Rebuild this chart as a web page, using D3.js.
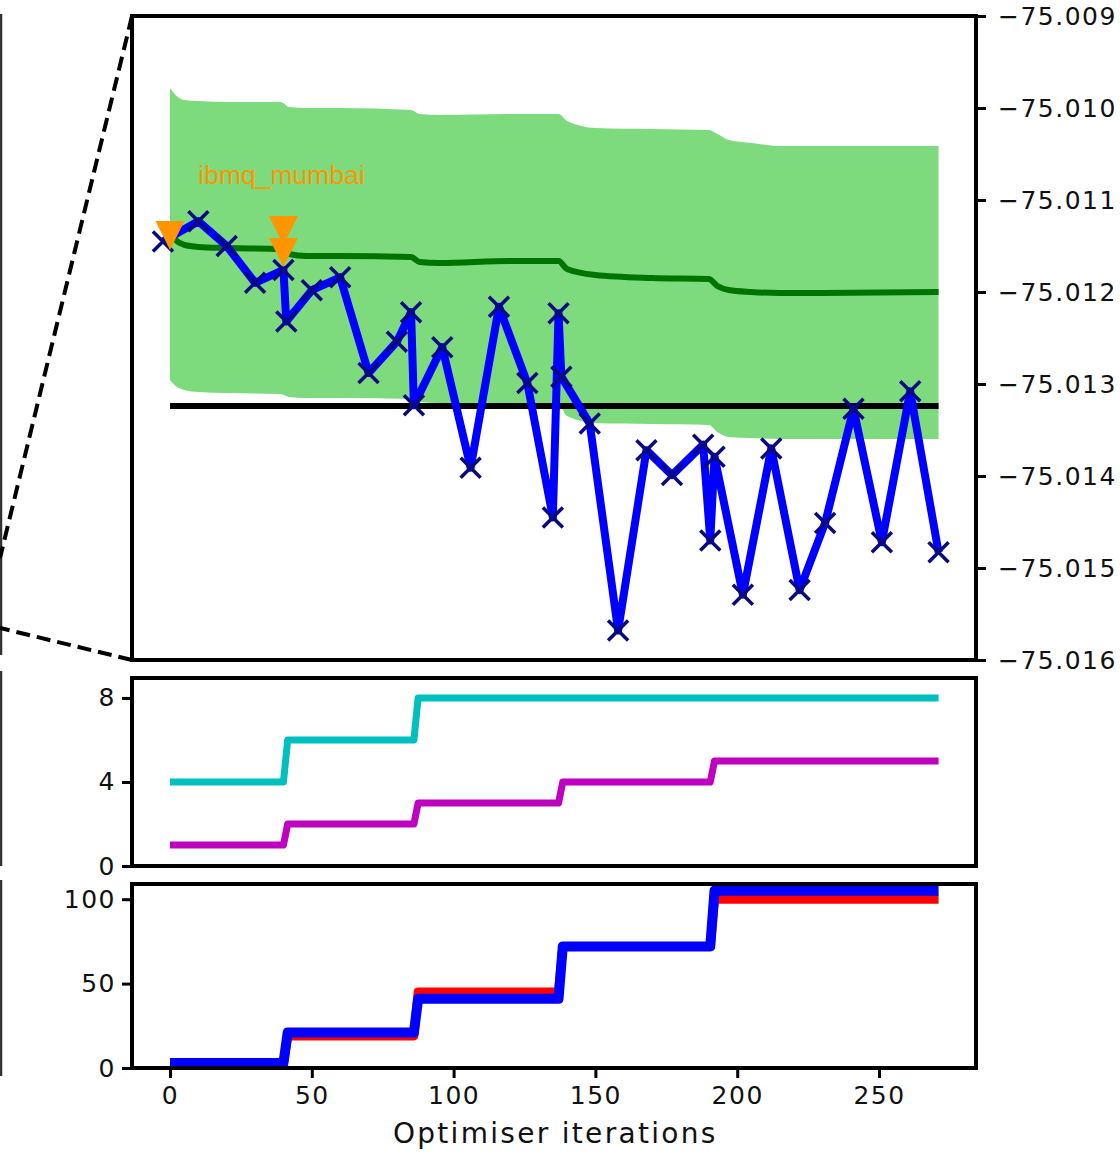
<!DOCTYPE html>
<html>
<head>
<meta charset="utf-8">
<script src="https://cdn.jsdelivr.net/npm/d3@7"></script>
<style>
  body { margin: 0; background: #fff; }
  svg { display: block; }
  .tick text { font-family: "DejaVu Sans", sans-serif; font-size: 25px; letter-spacing: 1.5px; fill: #111; }
  .tick line { stroke: #000; stroke-width: 3; }
</style>
</head>
<body>
<svg id="chart"></svg>
<script>
// optimiser energy trace (blue, with x markers)
const blueIter = [-2.5, 10, 20, 30, 40, 41, 50, 60, 70, 80, 85, 86, 96, 106, 116, 126, 135, 137, 138,
  148, 158, 168, 177, 188, 190.5, 192, 202, 212, 222, 231, 241, 251, 261, 271];
const blueEnergy = [-75.01145, -75.01123, -75.01150, -75.01190, -75.01176, -75.01232, -75.01198, -75.01184,
  -75.01288, -75.01254, -75.01222, -75.01323, -75.01260, -75.01391, -75.01216, -75.01299, -75.01445,
  -75.01223, -75.01292, -75.01343, -75.01568, -75.01372, -75.01399, -75.01366, -75.01470, -75.01379,
  -75.01529, -75.01370, -75.01524, -75.01451, -75.01327, -75.01472, -75.01308, -75.01483];

// GP model: mean and confidence band
const gpIter = [0, 2, 5, 10, 20, 39, 42, 48, 60, 85, 88, 95, 120, 137, 140, 150, 170, 190, 193, 197, 205, 215, 230, 271];
const gpMean = [-75.011348, -75.011435, -75.011489, -75.011511, -75.011522, -75.011533, -75.011587, -75.011609,
  -75.011609, -75.011620, -75.011674, -75.011685, -75.011663, -75.011663, -75.011750, -75.011815, -75.011848,
  -75.011859, -75.011935, -75.011978, -75.012000, -75.012011, -75.012011, -75.012000];
const gpUpper = [-75.009783, -75.009859, -75.009913, -75.009924, -75.009935, -75.009935, -75.009989, -75.010000,
  -75.010000, -75.010022, -75.010065, -75.010076, -75.010065, -75.010065, -75.010141, -75.010217, -75.010228,
  -75.010239, -75.010283, -75.010348, -75.010380, -75.010413, -75.010413, -75.010413];
const gpLower = [-75.012957, -75.013022, -75.013065, -75.013087, -75.013098, -75.013109, -75.013141, -75.013152,
  -75.013152, -75.013163, -75.013196, -75.013207, -75.013207, -75.013217, -75.013348, -75.013424, -75.013435,
  -75.013446, -75.013522, -75.013576, -75.013587, -75.013598, -75.013598, -75.013598];

// exact reference energy
const refEnergy = -75.01324;
const refIter = [0, 271];

// device switches (orange triangles)
const devIter = [0, 40, 40];
const devEnergy = [-75.011386, -75.011332, -75.011571];
const devName = "ibmq_mumbai";

// middle panel
const cyanIter = [0, 40, 41.5, 86, 87.5, 271];
const cyanVal = [4, 4, 6, 6, 8, 8];
const magentaIter = [0, 40, 41.5, 86, 87.5, 137, 138.5, 190.5, 192, 271];
const magentaVal = [1, 1, 2, 2, 3, 3, 4, 4, 5, 5];

// bottom panel
const stepIter = [0, 40, 41.5, 86, 87.5, 137, 138.5, 190.5, 192, 271];
const redVal = [3, 3, 19, 19, 45, 45, 72, 72, 100, 100];
const blueVal = [3, 3, 21, 21, 41, 41, 72, 72, 105, 105];

const xTicks = [0, 50, 100, 150, 200, 250];
const energyTicks = [-75.009, -75.010, -75.011, -75.012, -75.013, -75.014, -75.015, -75.016];
const midTicks = [0, 4, 8];
const botTicks = [0, 50, 100];

const W = 1120, H = 1154;
const svg = d3.select('#chart').attr('width', W).attr('height', H);

const x = d3.scaleLinear().domain([-13.4, 284.2]).range([132, 976]);
const yTop = d3.scaleLinear().domain([-75.016, -75.009]).range([660, 16]);
const yMid = d3.scaleLinear().domain([0, 8.95]).range([866, 678]);
const yBot = d3.scaleLinear().domain([0, 109]).range([1068, 884]);
const [xl, xr] = x.range();

// partial edge of the neighbouring figure + zoom connectors
const edge = svg.append('g').attr('stroke', '#333').attr('stroke-width', 2.5);
[[14, 655], [671, 866], [880, 1076]].forEach(([a, b]) =>
  edge.append('line').attr('x1', 1).attr('x2', 1).attr('y1', a).attr('y2', b));
svg.append('line')
  .attr('x1', xl).attr('y1', yTop.range()[1]).attr('x2', 0).attr('y2', 558)
  .attr('stroke', '#000').attr('stroke-width', 4).attr('stroke-dasharray', '14,7');
svg.append('line')
  .attr('x1', xl).attr('y1', yTop.range()[0]).attr('x2', 0).attr('y2', 628)
  .attr('stroke', '#000').attr('stroke-width', 4).attr('stroke-dasharray', '14,7');

// ---- top panel
const idx = gpIter.map((d, i) => i);
svg.append('path')
  .attr('d', d3.area().x(i => x(gpIter[i])).y0(i => yTop(gpLower[i])).y1(i => yTop(gpUpper[i]))
    .curve(d3.curveMonotoneX)(idx))
  .attr('fill', '#7ddb7e');
svg.append('path')
  .attr('d', d3.line().x(i => x(gpIter[i])).y(i => yTop(gpMean[i])).curve(d3.curveMonotoneX)(idx))
  .attr('fill', 'none').attr('stroke', '#007400').attr('stroke-width', 6);
svg.append('line')
  .attr('x1', x(refIter[0])).attr('x2', x(refIter[1]))
  .attr('y1', yTop(refEnergy)).attr('y2', yTop(refEnergy))
  .attr('stroke', '#000').attr('stroke-width', 6);

const bIdx = blueIter.map((d, i) => i);
svg.append('path')
  .attr('d', d3.line().x(i => x(blueIter[i])).y(i => yTop(blueEnergy[i]))(bIdx))
  .attr('fill', 'none').attr('stroke', '#0000ff').attr('stroke-width', 8)
  .attr('stroke-linejoin', 'round');
const s = 10;
svg.append('g').selectAll('path').data(bIdx).join('path')
  .attr('transform', i => `translate(${x(blueIter[i])},${yTop(blueEnergy[i])})`)
  .attr('d', `M${-s},${-s}L${s},${s}M${-s},${s}L${s},${-s}`)
  .attr('stroke', '#0a0a80').attr('stroke-width', 3.5);

const t = 14.5;
svg.append('g').selectAll('path').data(devIter.map((d, i) => i)).join('path')
  .attr('transform', i => `translate(${x(devIter[i])},${yTop(devEnergy[i])})`)
  .attr('d', `M${-t},${-t}L${t},${-t}L0,${t}Z`)
  .attr('fill', '#ff9500');
svg.append('text')
  .attr('x', x(10)).attr('y', yTop(-75.01083))
  .attr('font-family', '"Liberation Sans", Arial, sans-serif').attr('font-size', 26.5)
  .attr('fill', '#ff9500').text(devName);

svg.append('g').attr('transform', `translate(${xr},0)`)
  .call(d3.axisRight(yTop).tickValues(energyTicks).tickFormat(d3.format('.3f')).tickSize(10).tickPadding(12))
  .call(g => g.select('.domain').remove());

// ---- middle panel
const stepLine = (xs, ys, yScale) => d3.line().x(i => x(xs[i])).y(i => yScale(ys[i]))(xs.map((d, i) => i));
svg.append('path').attr('d', stepLine(cyanIter, cyanVal, yMid))
  .attr('fill', 'none').attr('stroke', '#00bfbf').attr('stroke-width', 7).attr('stroke-linejoin', 'round');
svg.append('path').attr('d', stepLine(magentaIter, magentaVal, yMid))
  .attr('fill', 'none').attr('stroke', '#bf00bf').attr('stroke-width', 7).attr('stroke-linejoin', 'round');
svg.append('g').attr('transform', `translate(${xl},0)`)
  .call(d3.axisLeft(yMid).tickValues(midTicks).tickSize(10).tickPadding(6))
  .call(g => g.select('.domain').remove());

// ---- bottom panel
svg.append('path').attr('d', stepLine(stepIter, redVal, yBot))
  .attr('fill', 'none').attr('stroke', '#ff0000').attr('stroke-width', 9).attr('stroke-linejoin', 'round');
svg.append('path').attr('d', stepLine(stepIter, blueVal, yBot))
  .attr('fill', 'none').attr('stroke', '#0000ff').attr('stroke-width', 10).attr('stroke-linejoin', 'round');
svg.append('g').attr('transform', `translate(${xl},0)`)
  .call(d3.axisLeft(yBot).tickValues(botTicks).tickSize(10).tickPadding(6))
  .call(g => g.select('.domain').remove());
svg.append('g').attr('transform', `translate(0,${yBot.range()[0]})`)
  .call(d3.axisBottom(x).tickValues(xTicks).tickSize(10).tickPadding(8))
  .call(g => g.select('.domain').remove());

svg.append('text')
  .attr('x', (x(0) + x(271)) / 2 + 1).attr('y', 1143).attr('text-anchor', 'middle')
  .attr('font-family', '"DejaVu Sans", sans-serif').attr('font-size', 28).attr('letter-spacing', 2.3)
  .attr('fill', '#111').text('Optimiser iterations');

// frames
[yTop, yMid, yBot].forEach(ys => {
  const [b, tp] = ys.range();
  svg.append('rect').attr('x', xl).attr('y', tp).attr('width', xr - xl).attr('height', b - tp)
    .attr('fill', 'none').attr('stroke', '#000').attr('stroke-width', 4);
});
</script>
</body>
</html>
